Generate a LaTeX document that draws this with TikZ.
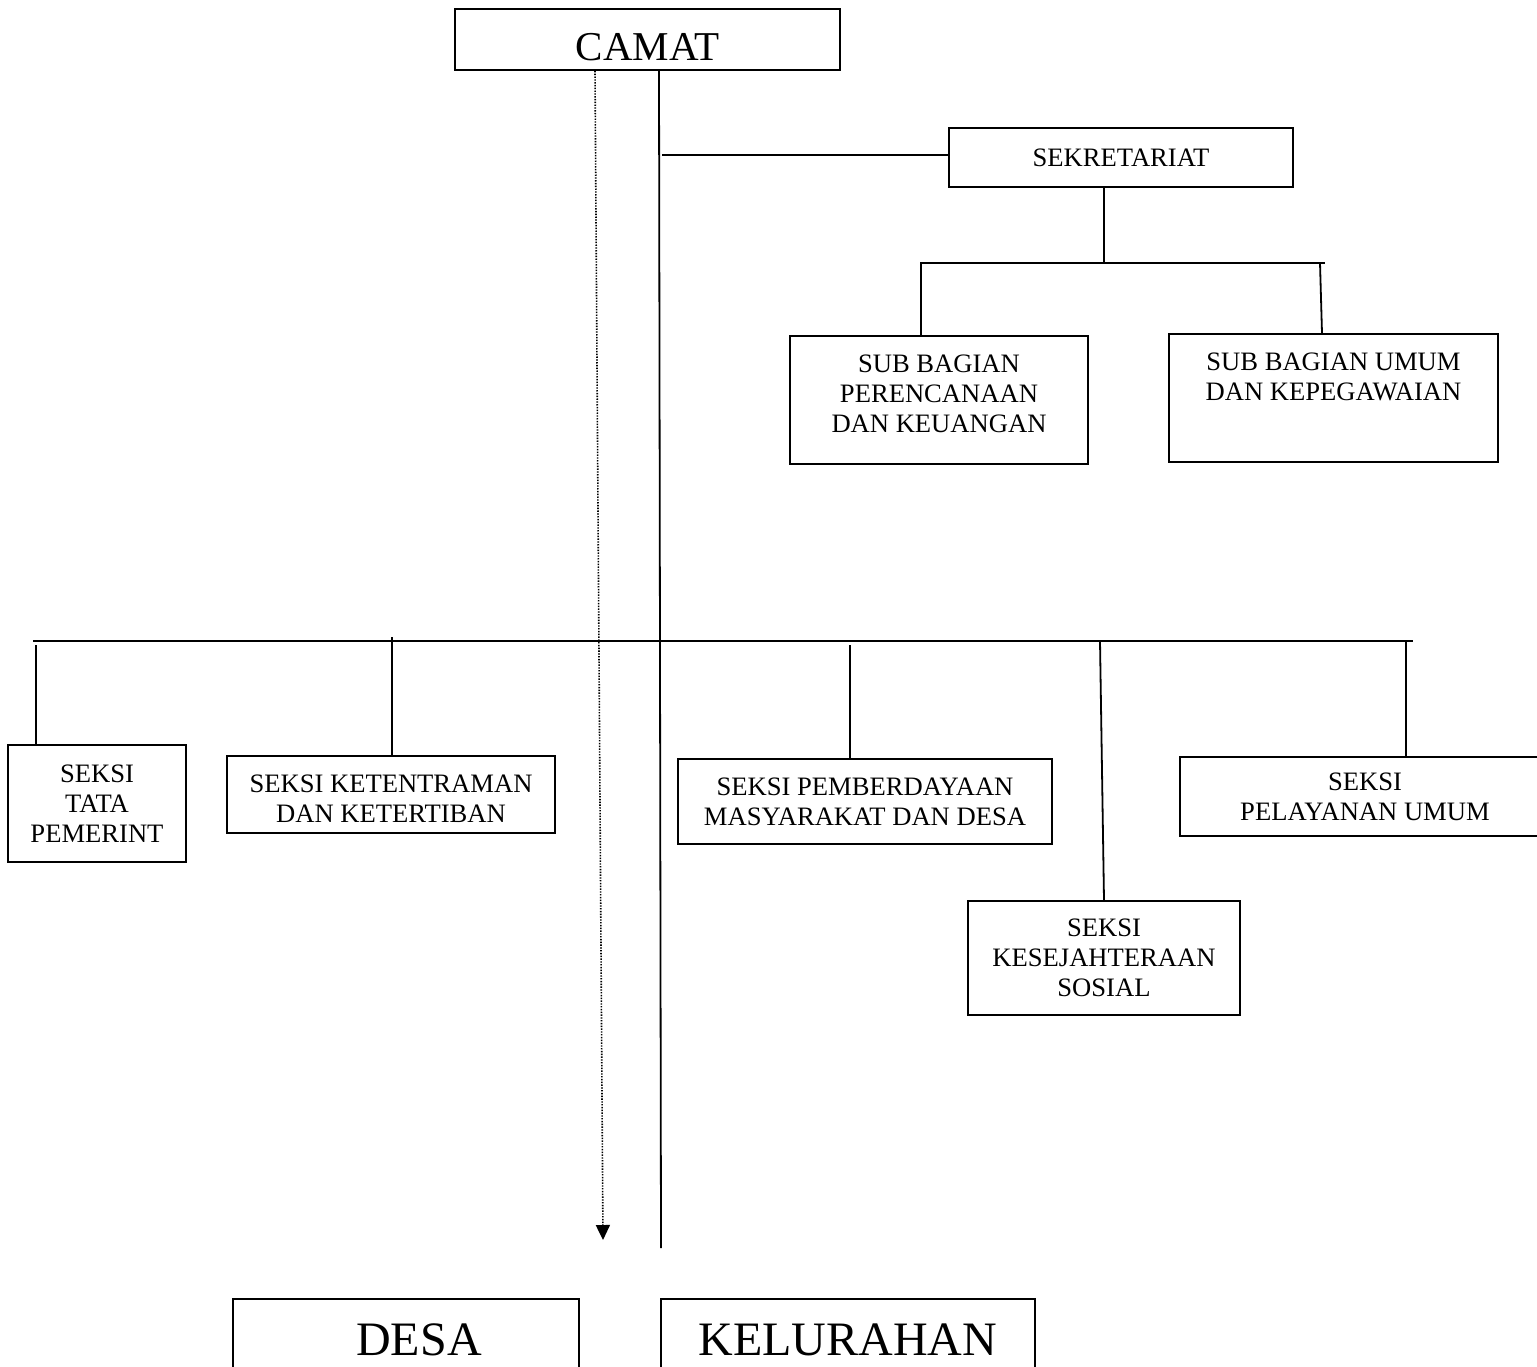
\documentclass[tikz,border=0pt]{standalone}
\usepackage{fontspec}
\setmainfont{Liberation Serif}
\usetikzlibrary{arrows.meta}
\begin{document}
\begin{tikzpicture}[x=0.5pt,y=-0.5pt,
  box/.style={draw, line width=0.9pt, inner sep=0pt, align=center},
  small/.style={font=\fontsize{13.3}{15}\selectfont},
  big/.style={font=\fontsize{20.5}{24}\selectfont},
  huge/.style={font=\fontsize{24}{28}\selectfont},
  conn/.style={line width=0.9pt},
  dotline/.style={line width=0.8pt, dash pattern=on 0.7pt off 0.7pt}]
\useasboundingbox (0,0) rectangle (1537,1366);
\clip (0,0) rectangle (1537,1366);

% boxes
\node[box,big,minimum width=192.5pt,minimum height=30.5pt,text height=20.6pt,text depth=0pt] (camat) at (647.5,39.5) {CAMAT};
\node[box,small,minimum width=172pt,minimum height=29.5pt] (sek) at (1121,157.5) {SEKRETARIAT};
\node[box,small,minimum width=149pt,minimum height=64pt,text depth=6.5pt] (sbp) at (939,400) {SUB BAGIAN\\PERENCANAAN\\DAN KEUANGAN};
\node[box,small,minimum width=164.5pt,minimum height=64pt,text depth=21.5pt] (sbu) at (1333.5,398) {SUB BAGIAN UMUM\\DAN KEPEGAWAIAN};
\node[box,small,minimum width=89pt,minimum height=58.5pt] (tata) at (97,803.5) {SEKSI\\TATA\\PEMERINT};
\node[box,small,minimum width=164pt,minimum height=38.5pt,text height=28pt,text depth=0pt] (ket) at (391,794.5) {SEKSI KETENTRAMAN\\DAN KETERTIBAN};
\node[box,small,minimum width=187pt,minimum height=42.5pt] (pem) at (865,801.5) {SEKSI PEMBERDAYAAN\\MASYARAKAT DAN DESA};
\node[box,small,minimum width=185pt,minimum height=39.5pt] (pel) at (1365,796.5) {SEKSI\\PELAYANAN UMUM};
\node[box,small,minimum width=136pt,minimum height=57pt] (kes) at (1104,958) {SEKSI\\KESEJAHTERAAN\\SOSIAL};
\node[box,huge,minimum width=173pt,minimum height=41pt] (desa) at (406,1340) {\hspace*{13pt}DESA};
\node[box,huge,minimum width=187pt,minimum height=41pt] (kel) at (848,1340) {KELURAHAN};

% coordinates
\coordinate (vt) at (659,70);
\coordinate (vb) at (661,1248);
\coordinate (dt) at (595,70);
\coordinate (db) at (603,1240);
\coordinate (sj) at (1104,263);
\coordinate (sl) at (920,263);
\coordinate (sr) at (1325,263);
\coordinate (ml) at (33,641);
\coordinate (mr) at (1413,641);

% main vertical lines from CAMAT
\draw[conn] (camat.south -| vt) -- (vb);
\draw[dotline,-{Triangle[width=7pt,length=7.5pt]}] (camat.south -| dt) -- (db);

% SEKRETARIAT branch
\draw[conn] (sek.west) ++(0,-2.5) -- (662,155);
\draw[conn] (sek.south -| sj) -- (sj);
\draw[conn] (sl) -- (sr);
\draw[conn] (921,263) -- (sbp.north -| 921,0);
\draw[conn] (1320,263) -- (sbu.north -| 1322,0);

% main horizontal
\draw[conn] (ml) -- (mr);
\draw[conn] (36,645) -- (tata.north -| 36,0);
\draw[conn] (392,637) -- (ket.north -| 392,0);
\draw[conn] (850,645) -- (pem.north -| 850,0);
\draw[conn] (1100,641) -- (kes.north -| 1104,0);
\draw[conn] (1406,641) -- (pel.north -| 1406,0);
\end{tikzpicture}
\end{document}
